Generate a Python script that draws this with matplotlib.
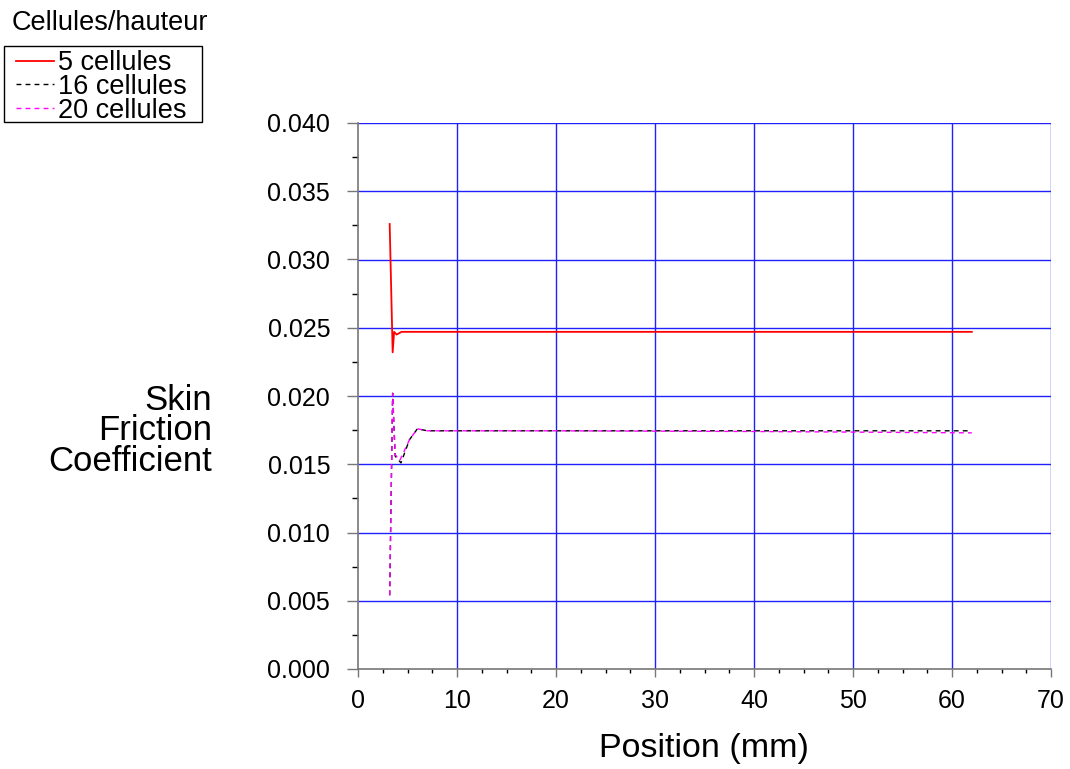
#!/usr/bin/env python3
"""
Skin friction coefficient along the plate for three mesh densities
"""

import matplotlib
matplotlib.use('Agg')
import matplotlib.pyplot as plt
from matplotlib.patches import Rectangle
from matplotlib.ticker import MultipleLocator, FormatStrFormatter

plt.rcParams['font.family'] = 'Liberation Sans'

# mesh refinement: cells per height
x_5 = [3.2, 3.5, 3.65, 3.9, 4.4, 6.0, 10, 20, 30, 40, 50, 62]
cf_5 = [0.0326, 0.0232, 0.0247, 0.0245, 0.0247, 0.0247, 0.0247, 0.0247,
        0.0247, 0.0247, 0.0247, 0.0247]

x_16 = [3.2, 3.5, 3.75, 4.34, 5.2, 6.0, 7.0, 20, 40, 62]
cf_16 = [0.0054, 0.0202, 0.0156, 0.0151, 0.0168, 0.0176, 0.01745, 0.01745,
         0.01745, 0.01745]

x_20 = [3.2, 3.5, 3.75, 4.24, 5.2, 6.0, 7.0, 20, 40, 62]
cf_20 = [0.0054, 0.0202, 0.0157, 0.0153, 0.0168, 0.0176, 0.01745, 0.01745,
         0.0174, 0.0173]

labels = ['5 cellules', '16 cellules', '20 cellules']

W, H = 1070, 769
fig = plt.figure(figsize=(W / 100, H / 100), dpi=100)
ax = fig.add_axes([358 / W, 1 - 669 / H, (1051 - 358) / W, (669 - 123) / H])

grid_blue = '#2020ff'
spine_gray = '#777777'

# grid
for gx in range(10, 71, 10):
    ax.axvline(gx, color=grid_blue, linewidth=1.0, zorder=1)
for gy in [0.005, 0.010, 0.015, 0.020, 0.025, 0.030, 0.035, 0.040]:
    ax.axhline(gy, color=grid_blue, linewidth=1.0, zorder=1)

ax.plot(x_5, cf_5, color='red', linewidth=1.3, label=labels[0], zorder=3)
ax.plot(x_16, cf_16, color='black', linewidth=1.0, dashes=(3.5, 3),
        label=labels[1], zorder=3)
ax.plot(x_20, cf_20, color='#ff00ff', linewidth=1.0, dashes=(3.5, 3),
        label=labels[2], zorder=4)

ax.set_xlim(0, 70)
ax.set_ylim(0, 0.040)
ax.xaxis.set_major_locator(MultipleLocator(10))
ax.xaxis.set_minor_locator(MultipleLocator(2.5))
ax.yaxis.set_major_locator(MultipleLocator(0.005))
ax.yaxis.set_minor_locator(MultipleLocator(0.0025))
ax.yaxis.set_major_formatter(FormatStrFormatter('%.3f'))

for side in ['top', 'right']:
    ax.spines[side].set_visible(False)
for side in ['left', 'bottom']:
    ax.spines[side].set_color(spine_gray)
    ax.spines[side].set_linewidth(1.2)

ax.tick_params(axis='y', which='major', direction='out', length=8, width=1.0,
               color=spine_gray, labelsize=18, pad=12)
ax.tick_params(axis='y', which='minor', direction='out', length=4.3, width=1.0,
               color='black')
ax.tick_params(axis='x', which='major', direction='out', length=5.5, width=1.0,
               color=spine_gray, labelsize=18, pad=9)
ax.tick_params(axis='x', which='minor', direction='out', length=2.8, width=1.0,
               color='black')

# axis titles
fig.text(212 / W, 1 - 431 / H, 'Skin\nFriction\nCoefficient', fontsize=25,
         ha='right', va='center', multialignment='right', linespacing=0.92)
fig.text(704 / W, 1 - 748 / H, 'Position (mm)', fontsize=24.5,
         ha='center', va='center')

# legend: title above a plain box
fig.text(12 / W, 1 - 29.5 / H, 'Cellules/hauteur', fontsize=19.5,
         ha='left', va='baseline')
fig.patches.append(Rectangle((4 / W, 1 - 122 / H), 198 / W, 76 / H,
                             transform=fig.transFigure, facecolor='none',
                             edgecolor='black', linewidth=1.0, zorder=5))
leg = ax.legend(loc='upper left', bbox_to_anchor=(16 / W, 1 - 50 / H),
                bbox_transform=fig.transFigure, borderaxespad=0, borderpad=0,
                handlelength=1.4, handletextpad=0.15, labelspacing=-0.08,
                fontsize=19.5, frameon=False)

fig.savefig('out.png', dpi=100)
